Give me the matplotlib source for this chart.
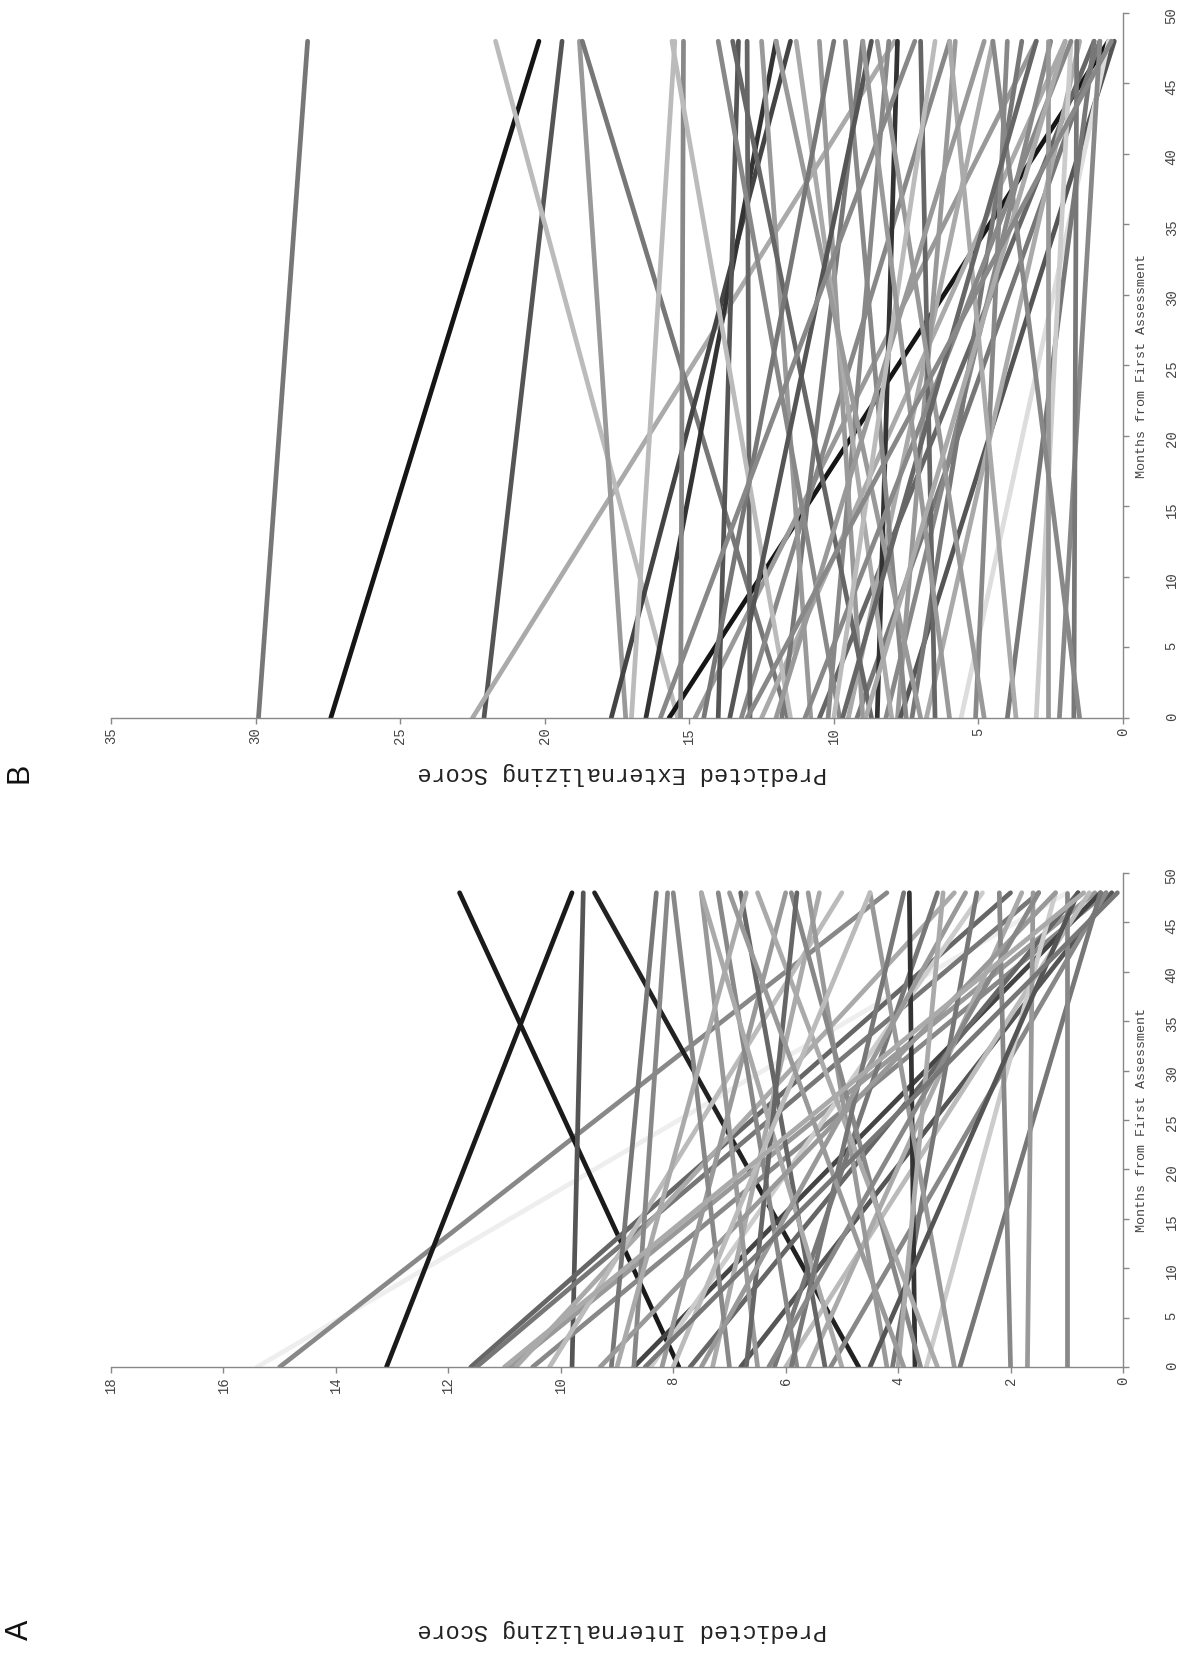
import matplotlib
matplotlib.use("Agg")
import matplotlib.pyplot as plt

# ---------------- data ----------------
months = [0, 48]

# Panel A: predicted internalizing score at month 0 and month 48, line shade
int_start = [15.4, 15.0, 13.1, 7.9, 4.7, 9.8, 11.6, 11.5, 10.9, 10.8, 10.5, 10.2,
             9.1, 8.7, 8.7, 8.4, 8.2, 7.7, 7.3, 7.0, 6.8, 6.5, 6.2, 6.0, 5.8, 5.6,
             5.3, 5.2, 5.0, 4.2, 4.1, 3.7, 3.6, 3.5, 3.3, 3.0, 2.9, 2.0, 1.7, 1.0,
             6.7, 9.3, 8.0, 4.5, 5.9, 7.5, 4.0, 6.3, 9.0, 3.9, 11.0, 8.5]
int_end = [1.0, 4.2, 9.8, 11.8, 9.4, 9.6, 2.0, 1.5, 0.5, 3.0, 0.3, 5.0,
           8.3, 0.4, 8.1, 2.5, 6.0, 0.8, 5.4, 8.0, 0.2, 7.5, 3.3, 0.6, 7.2, 1.8,
           6.8, 0.3, 7.5, 5.6, 2.6, 3.8, 5.9, 1.2, 6.5, 4.5, 0.4, 2.2, 1.6, 1.0,
           5.8, 1.2, 4.5, 0.8, 3.9, 2.8, 3.2, 1.5, 6.7, 7.0, 0.7, 0.1]
int_shade = ["#eeeeee", "#888888", "#1a1a1a", "#1a1a1a", "#222222", "#555555",
             "#666666", "#777777", "#999999", "#aaaaaa", "#888888", "#bbbbbb",
             "#777777", "#444444", "#888888", "#cccccc", "#999999", "#666666",
             "#aaaaaa", "#888888", "#555555", "#999999", "#777777", "#bbbbbb",
             "#888888", "#aaaaaa", "#666666", "#888888", "#aaaaaa", "#999999",
             "#777777", "#333333", "#888888", "#cccccc", "#aaaaaa", "#999999",
             "#777777", "#888888", "#999999", "#888888", "#666666", "#999999",
             "#bbbbbb", "#555555", "#777777", "#999999", "#aaaaaa", "#888888",
             "#aaaaaa", "#999999", "#aaaaaa", "#777777"]

# Panel B: predicted externalizing score at month 0 and month 48, line shade
ext_start = [29.9, 27.4, 22.1, 22.5, 15.4, 17.2, 11.6, 17.7, 16.5, 15.7, 15.3,
             14.8, 14.0, 13.2, 12.9, 12.5, 11.8, 11.5, 10.8, 10.5, 10.2, 9.8,
             9.5, 9.2, 9.0, 8.7, 8.5, 8.2, 8.0, 7.8, 7.7, 7.5, 7.3, 7.0, 6.8,
             6.5, 5.6, 5.1, 4.8, 4.0, 3.7, 3.0, 2.6, 2.2, 1.7, 1.5, 13.6, 12.0,
             11.0, 10.0, 14.5, 16.0, 9.7, 6.0, 8.9, 13.0, 17.0]
ext_end = [28.2, 20.2, 19.4, 7.9, 21.7, 18.8, 18.7, 11.5, 12.0, 0.5, 15.2,
           3.0, 13.3, 6.0, 13.0, 2.0, 9.0, 15.6, 12.5, 1.0, 8.1, 14.0,
           4.5, 0.8, 10.5, 13.5, 7.8, 2.5, 11.3, 5.8, 0.3, 9.6, 3.5, 12.0, 1.5,
           7.0, 0.5, 4.0, 8.5, 1.0, 6.0, 1.8, 2.6, 0.8, 1.6, 4.5, 8.7, 4.8,
           1.8, 6.5, 10.0, 7.2, 3.0, 9.0, 2.0, 0.4, 15.5]
ext_shade = ["#777777", "#151515", "#555555", "#aaaaaa", "#bbbbbb", "#999999",
             "#777777", "#444444", "#333333", "#151515", "#888888", "#999999",
             "#555555", "#888888", "#666666", "#aaaaaa", "#777777", "#bbbbbb",
             "#999999", "#666666", "#888888", "#888888", "#aaaaaa", "#777777",
             "#999999", "#666666", "#333333", "#888888", "#aaaaaa", "#999999",
             "#555555", "#888888", "#777777", "#999999", "#aaaaaa", "#666666",
             "#dddddd", "#888888", "#999999", "#777777", "#aaaaaa", "#cccccc",
             "#999999", "#888888", "#777777", "#888888", "#555555", "#999999",
             "#888888", "#bbbbbb", "#777777", "#888888", "#666666", "#999999",
             "#aaaaaa", "#888888", "#bbbbbb"]

int_ticks = list(range(0, 19, 2))
ext_ticks = list(range(0, 36, 5))
month_ticks = list(range(0, 51, 5))

# ---------------- drawing ----------------
MONO = ["Liberation Mono", "DejaVu Sans Mono"]
W, H = 1180, 1660
fig = plt.figure(figsize=(W / 100, H / 100), dpi=100)


def panel(rect, starts, ends, shades, xmax, xticks):
    ax = fig.add_axes(rect)
    for s, e, c in zip(starts, ends, shades):
        ax.plot([s, e], months, color=c, lw=3.4, solid_capstyle="round")
    ax.set_xlim(xmax, 0)
    ax.set_ylim(0, 50)
    ax.set_xticks(xticks)
    ax.set_yticks(month_ticks)
    for side in ("top", "left"):
        ax.spines[side].set_visible(False)
    for side in ("bottom", "right"):
        ax.spines[side].set_color("#888888")
        ax.spines[side].set_linewidth(1.0)
    ax.yaxis.tick_right()
    ax.tick_params(axis="both", direction="out", length=4, width=1,
                   color="#888888", labelcolor="#444444", labelsize=10)
    ax.tick_params(axis="x", labelrotation=90, pad=3)
    ax.tick_params(axis="y", labelrotation=90, pad=26)
    for lab in ax.get_xticklabels() + ax.get_yticklabels():
        lab.set_family(MONO)
    return ax


def frac_rect(left, top, right, bottom):
    return [left / W, 1 - bottom / H, (right - left) / W, (bottom - top) / H]


axA = panel(frac_rect(111, 873, 1123, 1367), int_start, int_end, int_shade, 18, int_ticks)
axB = panel(frac_rect(111, 13, 1123, 718), ext_start, ext_end, ext_shade, 35, ext_ticks)

for yc in ((873 + 1367) / 2, (13 + 718) / 2):
    fig.text(1142 / W, 1 - yc / H, "Months from First Assessment", rotation=90,
             ha="center", va="center", fontsize=9.6, family=MONO, color="#444444")

fig.text(622 / W, 1 - 1630 / H, "Predicted Internalizing Score", rotation=180,
         ha="center", va="center", fontsize=17, family=MONO, color="#222222")
fig.text(622 / W, 1 - 773 / H, "Predicted Externalizing Score", rotation=180,
         ha="center", va="center", fontsize=17, family=MONO, color="#222222")

fig.text(20 / W, 1 - 1630 / H, "A", rotation=90, ha="center", va="center",
         fontsize=22, family=["Liberation Sans", "DejaVu Sans"], color="#111111")
fig.text(20 / W, 1 - 773 / H, "B", rotation=90, ha="center", va="center",
         fontsize=22, family=["Liberation Sans", "DejaVu Sans"], color="#111111")

fig.savefig("out.png", dpi=100, facecolor="white")
